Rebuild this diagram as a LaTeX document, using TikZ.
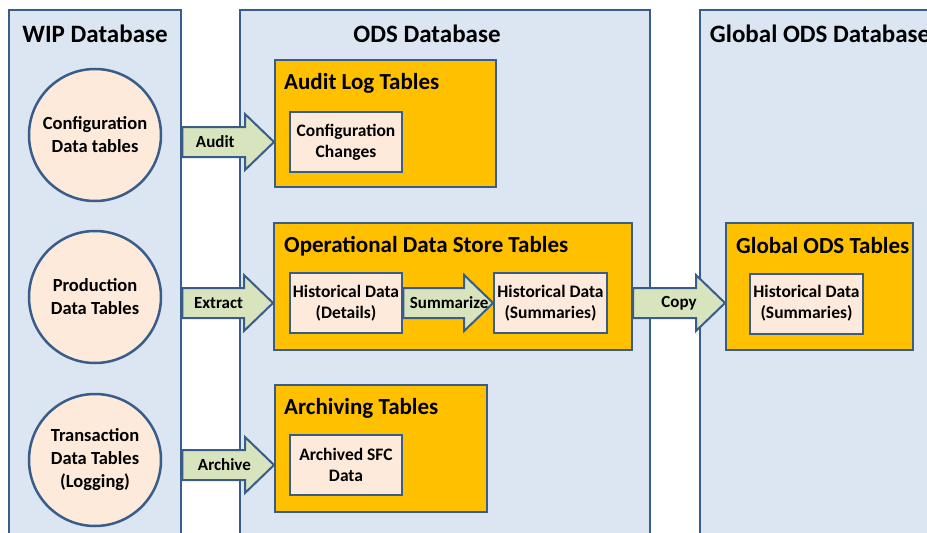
\documentclass[tikz,border=0pt]{standalone}
\usepackage{fontspec}
\setmainfont{Carlito}
\definecolor{db_line}{RGB}{56, 93, 138}
\definecolor{db_fill}{RGB}{220, 230, 242}
\definecolor{tbl_orange}{RGB}{255, 192, 0}
\definecolor{tbl_peach}{RGB}{253, 234, 218}
\definecolor{arr_green}{RGB}{215, 228, 189}
\usetikzlibrary{calc, positioning}

% block arrow from #2 to #3 (tip), label #4 at fraction #1 of its length
\newcommand{\fatarrow}[4][0.45]{%
  \draw[fat_arrow] let \p1=(#2), \p2=(#3) in
    (\x1,\y1+15pt) -- (\x2-29pt,\y1+15pt) -- (\x2-29pt,\y1+28pt) -- (\x2,\y1)
    -- (\x2-29pt,\y1-28pt) -- (\x2-29pt,\y1-15pt) -- (\x1,\y1-15pt) -- cycle
    ($(\x1,\y1)!#1!(\x2,\y1)$) node[arrow_text] {#4};
}

\begin{document}
\begin{tikzpicture}[x=1pt, y=-1pt,
    dbcol/.style={draw=db_line, fill=db_fill, line width=2.5pt,
                  minimum height=550pt},
    col_title/.style={font=\bfseries\fontsize{25}{28}\selectfont, inner sep=0pt},
    data_circ/.style={circle, draw=db_line, fill=tbl_peach, line width=2.5pt,
                      minimum size=132pt, align=center,
                      font=\bfseries\fontsize{18.5}{23}\selectfont},
    tbl_box/.style={draw=db_line, fill=tbl_orange, line width=2pt,
                    minimum height=127pt},
    tbl_title/.style={font=\bfseries\fontsize{23}{26}\selectfont,
                      inner sep=0pt, anchor=west},
    tbl_inner/.style={draw=db_line, fill=tbl_peach, line width=2pt,
                      minimum width=112pt, minimum height=60pt, align=center,
                      font=\bfseries\fontsize{17.5}{21}\selectfont},
    fat_arrow/.style={draw=db_line, fill=arr_green, line width=2pt,
                      line join=miter},
    arrow_text/.style={font=\bfseries\fontsize{17}{18}\selectfont}]
  \useasboundingbox (0,0) rectangle (927,533);
  \clip (0,0) rectangle (927,533);

  % database columns
  \node[dbcol, minimum width=172pt] (wip) at (95,285) {};
  \node[dbcol, minimum width=410pt] (ods) at (445,285) {};
  \node[dbcol, minimum width=260pt] (glob) at (830,285) {};
  \node[col_title] at ([yshift=-25pt]wip.north) {WIP Database};
  \node[col_title] at ([shift={(-18pt,-25pt)}]ods.north) {ODS Database};
  \node[col_title, anchor=west] at ([shift={(11pt,-25pt)}]glob.north west)
    {Global ODS Database};

  % WIP tables
  \node[data_circ] (cfg_data) at (95,135) {Configuration\\Data tables};
  \node[data_circ] (prod_data) at (95,297) {Production\\Data Tables};
  \node[data_circ] (trans_data) at (95,460) {Transaction\\Data Tables\\(Logging)};

  % ODS tables
  \node[tbl_box, minimum width=221pt] (audit) at (385.5,123.5) {};
  \node[tbl_title] at ([shift={(10pt,-24pt)}]audit.north west) {Audit Log Tables};
  \node[tbl_inner] (cfg_chg) at (346,142) {Configuration\\Changes};

  \node[tbl_box, minimum width=358pt] (ops) at (453,286.5) {};
  \node[tbl_title] at ([shift={(11pt,-24pt)}]ops.north west)
    {Operational Data Store Tables};
  \node[tbl_inner] (hist_det) at (346,303) {Historical Data\\(Details)};
  \node[tbl_inner, minimum width=109pt] (hist_sum) at (550.5,303)
    {Historical Data\\(Summaries)};

  \node[tbl_box, minimum width=212pt] (arch) at (381,448.5) {};
  \node[tbl_title] at ([shift={(10pt,-24pt)}]arch.north west) {Archiving Tables};
  \node[tbl_inner] (arch_sfc) at (346,465) {Archived SFC\\Data};

  % global ODS
  \node[tbl_box, minimum width=187pt] (gods) at (819.5,286.5) {};
  \node[tbl_title] at ([shift={(11pt,-24pt)}]gods.north west) {Global ODS Tables};
  \node[tbl_inner, minimum width=111pt] (g_sum) at (806.5,303.5)
    {Historical Data\\(Summaries)};

  % flows
  \fatarrow[0.36]{wip.east |- cfg_chg}{audit.west |- cfg_chg}{Audit}
  \fatarrow[0.40]{wip.east |- hist_det}{ops.west |- hist_det}{Extract}
  \fatarrow[0.46]{wip.east |- arch_sfc}{arch.west |- arch_sfc}{Archive}
  \fatarrow[0.51]{hist_det.east}{hist_sum.west}{Summarize}
  \fatarrow[0.50]{ops.east |- hist_sum}{gods.west |- hist_sum}{Copy}
\end{tikzpicture}
\end{document}
